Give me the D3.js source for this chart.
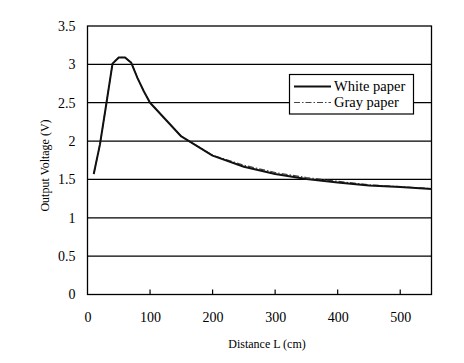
<!DOCTYPE html>
<html><head><meta charset="utf-8">
<script src="https://cdn.jsdelivr.net/npm/d3@7"></script>
<style>body{margin:0;background:#fff}svg{display:block}text{font-family:"Liberation Serif","Times New Roman",serif;fill:#000}</style>
</head><body><svg id="c" width="464" height="363"></svg>
<script>
const distances = [10, 20, 30, 40, 50, 60, 70, 80, 90, 100, 150, 200, 250, 300, 350, 400, 450, 500, 550];
const whitePaper = [1.57, 1.96, 2.48, 3.01, 3.09, 3.09, 3.02, 2.82, 2.65, 2.50, 2.06, 1.81, 1.665, 1.57, 1.505, 1.46, 1.42, 1.40, 1.375];
const grayPaper  = [1.57, 1.96, 2.48, 3.01, 3.09, 3.09, 3.02, 2.82, 2.65, 2.50, 2.06, 1.815, 1.685, 1.59, 1.525, 1.475, 1.43, 1.405, 1.38];
const xTicks = [0, 100, 200, 300, 400, 500];
const yTicks = [0, 0.5, 1, 1.5, 2, 2.5, 3, 3.5];
const seriesNames = ["White paper", "Gray paper"];

const svg = d3.select("#c");
const L = 87.5, R = 431.5, T = 26, B = 294.5;
const x = d3.scaleLinear().domain([0, 550]).range([L, R]);
const y = d3.scaleLinear().domain([0, 3.5]).range([B, T]);

// gridlines
svg.append("g").selectAll("line").data(yTicks.filter(v => v > 0 && v < 3.5)).join("line")
  .attr("x1", L).attr("x2", R).attr("y1", d => y(d)).attr("y2", d => y(d))
  .attr("stroke", "#000").attr("stroke-width", 1.2);

// frame
svg.append("rect").attr("x", L).attr("y", T).attr("width", R - L).attr("height", B - T)
  .attr("fill", "none").attr("stroke", "#000").attr("stroke-width", 1.3);

// x axis
const xAxis = d3.axisBottom(x).tickValues(xTicks).tickSize(0).tickPadding(18);
const gx = svg.append("g").attr("transform", `translate(0,${B})`).call(xAxis);
gx.select(".domain").remove();
gx.selectAll("text").attr("font-size", 14).attr("font-family", "Liberation Serif");
svg.append("g").selectAll("line").data(xTicks.filter(v => v > 0)).join("line")
  .attr("x1", d => x(d)).attr("x2", d => x(d)).attr("y1", B).attr("y2", B - 5)
  .attr("stroke", "#000").attr("stroke-width", 1.2);

// y axis
const yAxis = d3.axisLeft(y).tickValues(yTicks).tickSize(0).tickPadding(12).tickFormat(d3.format("~g"));
const gy = svg.append("g").attr("transform", `translate(${L},0)`).call(yAxis);
gy.select(".domain").remove();
gy.selectAll("text").attr("font-size", 14).attr("font-family", "Liberation Serif");

// axis titles
svg.append("text").attr("x", 267).attr("y", 348).attr("text-anchor", "middle")
  .attr("font-size", 12).text("Distance L (cm)");
svg.append("text").attr("transform", "translate(49,165.5) rotate(-90)").attr("text-anchor", "middle")
  .attr("font-size", 12).text("Output Voltage (V)");

const line = d3.line().x(d => x(d[0])).y(d => y(d[1]));
svg.append("path").datum(distances.map((d, i) => [d, grayPaper[i]]))
  .attr("d", line).attr("fill", "none").attr("stroke", "#444").attr("stroke-width", 1.2)
  .attr("stroke-dasharray", "6,2,1.5,2");
svg.append("path").datum(distances.map((d, i) => [d, whitePaper[i]]))
  .attr("d", line).attr("fill", "none").attr("stroke", "#111").attr("stroke-width", 2)
  .attr("stroke-linejoin", "round");

// legend
const lg = svg.append("g");
lg.append("rect").attr("x", 289.5).attr("y", 74.5).attr("width", 124).attr("height", 39.5)
  .attr("fill", "#fff").attr("stroke", "#000").attr("stroke-width", 1.2);
const rows = [{name: seriesNames[0], yy: 86.5, w: 2, dash: null, c: "#111"},
              {name: seriesNames[1], yy: 102.5, w: 1.2, dash: "6,2,1.5,2", c: "#444"}];
rows.forEach(r => {
  lg.append("line").attr("x1", 294).attr("x2", 331).attr("y1", r.yy).attr("y2", r.yy)
    .attr("stroke", r.c).attr("stroke-width", r.w).attr("stroke-dasharray", r.dash);
  lg.append("text").attr("x", 334).attr("y", r.yy + 4.5).attr("font-size", 14.5).text(r.name);
});
</script></body></html>
